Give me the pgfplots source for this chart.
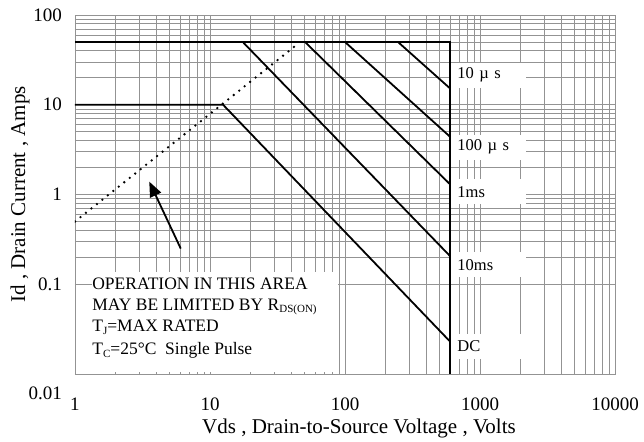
\documentclass[border=0pt]{standalone}
\usepackage{fontspec}
\setmainfont{Liberation Serif}
\usepackage{pgfplots}
\pgfplotsset{compat=1.18}
\usetikzlibrary{arrows.meta}

\newcommand{\sub}[1]{\raisebox{-2.5pt}{\fontsize{11}{11}\selectfont #1}}

\begin{document}
\begin{tikzpicture}
\path[use as bounding box] (-75pt,-67pt) rectangle (569pt,374pt);
\begin{axis}[
  scale only axis, width=540pt, height=359pt,
  xmode=log, ymode=log,
  xmin=1, xmax=10000, ymin=0.01, ymax=100,
  xtick={1,10,100,1000,10000}, xticklabels={1,10,100,1000,10000},
  ytick={0.1,1,10,100}, yticklabels={0.1,1,10,100},
  extra y ticks={0.01}, extra y tick labels={0.01},
  extra y tick style={yticklabel style={yshift=-19pt}},
  major tick length=0pt, minor tick length=0pt,
  grid=both,
  major grid style={gray!85, line width=0.6pt},
  minor grid style={gray!85, line width=0.6pt},
  axis line style={gray!85, line width=0.6pt},
  ticklabel style={font=\fontsize{19}{19}\selectfont, inner sep=0pt},
  xticklabel style={anchor=center, yshift=-30pt},
  yticklabel style={anchor=east, xshift=-13pt},
  every axis x label/.style={at={(rel axis cs:0.5,0)}, anchor=center, xshift=14pt, yshift=-54pt, font=\fontsize{21}{21}\selectfont},
  every axis y label/.style={at={(rel axis cs:0,0.5)}, xshift=-55pt, rotate=90, anchor=center, font=\fontsize{21}{21}\selectfont},
  xlabel={Vds , Drain-to-Source Voltage , Volts},
  ylabel={Id , Drain Current , Amps},
]
% white patches behind the notes
\fill[white] (axis cs:1.34,0.0105) rectangle (axis cs:88.7,0.137);
\begin{scope}[every node/.style={fill=white, anchor=west, text width=63pt, inner xsep=6pt, inner ysep=0pt, minimum height=25pt, align=left, font=\fontsize{16.5}{16.5}\selectfont}]
\node at (axis cs:612,21.4) {10 µ s};
\node at (axis cs:612,3.38) {100 µ s};
\node at (axis cs:612,1.07) {1ms};
\node at (axis cs:612,0.164) {10ms};
\node at (axis cs:612,0.0205) {DC};
\end{scope}
\begin{scope}[every node/.style={anchor=base west, inner sep=0pt, font=\fontsize{17.5}{17.5}\selectfont}]
\node at (axis cs:1.34,0.0879) {OPERATION IN THIS AREA};
\node at (axis cs:1.34,0.0516) {MAY BE LIMITED BY R\sub{DS(ON)}};
\node at (axis cs:1.34,0.0296) {T\sub{J}=MAX RATED};
\node at (axis cs:1.34,0.0163) {T\sub{C}=25°C\ \ Single Pulse};
\end{scope}

% limits
\addplot[black, line width=1.8pt] coordinates {(1,50) (600,50) (600,0.01)};
\addplot[black, line width=1.8pt] coordinates {(1,10) (12.5,10) (600,0.023)};
\addplot[black, line width=1.8pt] coordinates {(17.5,50) (600,0.206)};
\addplot[black, line width=1.8pt] coordinates {(50.6,50) (600,1.3)};
\addplot[black, line width=1.8pt] coordinates {(100,50) (600,4.4)};
\addplot[black, line width=1.8pt] coordinates {(247,50) (600,15.2)};
% RDS(on) limit
\addplot[black, line width=2.6pt, line cap=round, dash pattern=on 0pt off 7pt] coordinates {(1,0.5) (45,48)};
\addplot[black, line width=1.8pt, -{Triangle[length=15pt,width=12pt]}] coordinates {(6.07,0.25) (3.55,1.39)};
\end{axis}
\end{tikzpicture}
\end{document}
